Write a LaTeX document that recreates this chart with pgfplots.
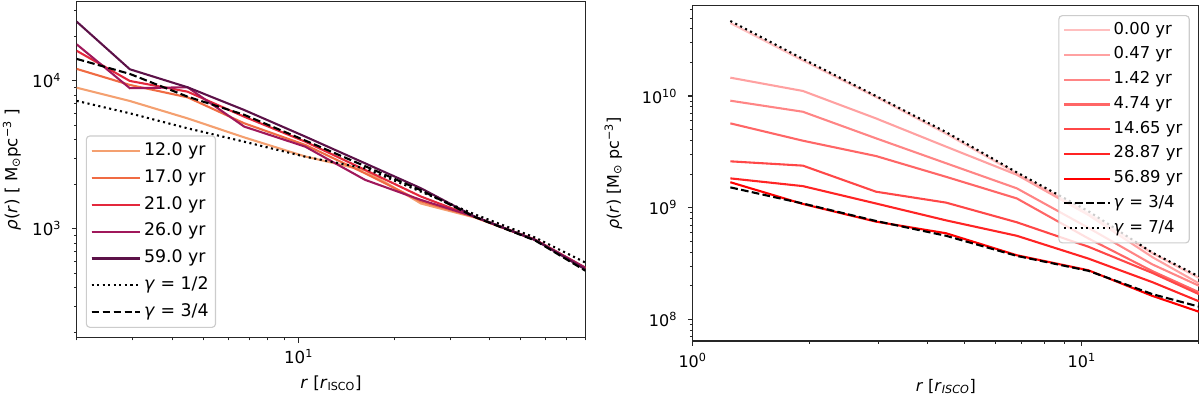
\documentclass[border=0pt,12pt]{standalone}
\usepackage{fontspec}
\setmainfont{DejaVu Sans}
\usepackage{pgfplots}
\pgfplotsset{compat=1.18}

\definecolor{cA}{HTML}{F4A070}
\definecolor{cB}{HTML}{F06B43}
\definecolor{cC}{HTML}{E3283C}
\definecolor{cD}{HTML}{A0185B}
\definecolor{cE}{HTML}{5C1148}
\definecolor{axgray}{HTML}{262626}

\pgfplotsset{
  log number format basis/.code 2 args={#1\textsuperscript{\pgfmathprintnumber{#2}}},
  every axis/.append style={
    scale only axis, 
    axis line style={line width=0.8pt, axgray},
    tick style={axgray}, major tick style={line width=0.8pt}, minor tick style={line width=0.6pt},
    major tick length=3.5pt, minor tick length=2pt, tick align=outside, tick pos=left,
    legend cell align=left,
    yticklabel style={xshift=-3.5pt},
    xticklabel style={yshift=-1pt},
  },
  every axis plot/.append style={line width=1.5pt},
}
\tikzset{
  dotline/.style={black, line width=1.5pt, dash pattern=on 1.5pt off 2.5pt},
  dashline/.style={black, line width=1.5pt, dash pattern=on 5.5pt off 2.4pt},
}

\begin{document}
\begin{tikzpicture}
\useasboundingbox (0,0) rectangle (864pt,285.12pt);

% left panel
\begin{loglogaxis}[
  at={(55.2pt,42pt)}, anchor=south west, width=366.2pt, height=241.9pt,
  xmin=2, xmax=80, ymin=183, ymax=34400,
  log basis x=10, log basis y=10,
  xtick={10}, minor xtick={2,3,4,5,6,7,8,9,20,30,40,50,60,70,80},
  ytick={1000,10000}, minor ytick={200,300,400,500,600,700,800,900,2000,3000,4000,5000,6000,7000,8000,9000,20000,30000},
  tick label style={font=\fontsize{12}{14}\selectfont},
  label style={font=\fontsize{12}{14}\selectfont},
  xlabel={\textit{r} [\textit{r}\textsubscript{ISCO}]},
  ylabel={\textit{ρ}(\textit{r}) [ M\textsubscript{⊙}pc\textsuperscript{−3} ]},
  legend image code/.code={\path (0pt,0pt) -- (35pt,0pt); \draw[line width=1.5pt,#1] (0pt,0pt) -- (28pt,0pt);},
  legend style={at={(0.018,0.029)}, anchor=south west, draw=black!20, line width=0.8pt,
    rounded corners=2.5pt, fill=white, fill opacity=0.8, text opacity=1, draw opacity=1,
    inner xsep=3pt, inner ysep=3pt, row sep=3.3pt,
    nodes={inner sep=2pt, text height=9pt, text depth=3pt},
    font=\fontsize{12.5}{14}\selectfont},
  /pgf/number format/assume math mode=true,
]
\addplot[cA] coordinates {(2,9000) (2.94,7320) (4.47,5580) (6.74,4150) (10.5,3080) (16.2,2480) (24.3,1480) (35.9,1190) (55.7,840) (80,545)};
\addplot[cB] coordinates {(2,12060) (2.94,9400) (4.47,7750) (6.74,5170) (10.5,3690) (16.2,2370) (24.3,1530) (35.9,1200) (55.7,840) (80,540)};
\addplot[cC] coordinates {(2,16000) (2.94,10000) (4.47,8460) (6.74,5730) (10.5,3880) (16.2,2500) (24.3,1650) (35.9,1200) (55.7,840) (80,540)};
\addplot[cD] coordinates {(2,17700) (2.94,8930) (4.47,9060) (6.74,4910) (10.5,3590) (16.2,2140) (24.3,1565) (35.9,1205) (55.7,838) (80,545)};
\addplot[cE] coordinates {(2,25200) (2.94,12000) (4.47,9060) (6.74,6360) (10.5,4200) (16.2,2770) (24.3,1877) (35.9,1205) (55.7,838) (80,530)};
\addplot[dotline] coordinates {(2,7330) (2.94,6040) (4.47,4780) (6.74,3880) (10.5,3070) (16.2,2560) (24.3,1780) (35.9,1250) (55.7,870) (80,590)};
\addplot[dashline] coordinates {(2,14100) (2.94,11160) (4.47,7830) (6.74,5900) (10.5,3950) (16.2,2650) (24.3,1820) (35.9,1200) (55.7,830) (80,520)};
\legend{12.0 yr, 17.0 yr, 21.0 yr, 26.0 yr, 59.0 yr, \textit{γ} = 1/2, \textit{γ} = 3/4}
\end{loglogaxis}

% right panel
\begin{loglogaxis}[
  at={(498.7pt,39.6pt)}, anchor=south west, width=364.5pt, height=241.4pt,
  xmin=1, xmax=20, ymin=6.4e7, ymax=6.44e10,
  log basis x=10, log basis y=10,
  xtick={1,10}, minor xtick={2,3,4,5,6,7,8,9,20},
  ytick={1e8,1e9,1e10}, minor ytick={7e7,8e7,9e7,2e8,3e8,4e8,5e8,6e8,7e8,8e8,9e8,2e9,3e9,4e9,5e9,6e9,7e9,8e9,9e9,2e10,3e10,4e10,5e10,6e10},
  tick label style={font=\fontsize{11.5}{13}\selectfont},
  label style={font=\fontsize{11.5}{13}\selectfont},
  ylabel shift=6pt,
  xlabel={\textit{r} [\textit{r}\textsubscript{\textit{ISCO}}]},
  ylabel={\textit{ρ}(\textit{r}) [M\textsubscript{⊙} pc\textsuperscript{−3}]},
  legend image code/.code={\path (0pt,0pt) -- (33pt,0pt); \draw[line width=1.5pt,#1] (0pt,0pt) -- (26pt,0pt);},
  legend style={at={(0.982,0.972)}, anchor=north east, draw=black!20, line width=0.8pt,
    rounded corners=2.5pt, fill=white, fill opacity=0.8, text opacity=1, draw opacity=1,
    inner xsep=3pt, inner ysep=3pt, row sep=2.6pt,
    nodes={inner sep=2pt, text height=8.4pt, text depth=2.8pt},
    font=\fontsize{11.8}{13}\selectfont},
  /pgf/number format/assume math mode=true,
]
\addplot[red!25] coordinates {(1.25,4.5e10) (1.92,2.08e10) (2.96,9.8e9) (4.48,4.6e9) (6.81,2.02e9) (10.4,8.9e8) (15.2,3.9e8) (20,2.35e8)};
\addplot[red!37] coordinates {(1.25,1.46e10) (1.92,1.11e10) (2.96,6.3e9) (4.48,3.52e9) (6.81,1.97e9) (10.4,8.6e8) (15.2,3.6e8) (20,2.1e8)};
\addplot[red!48] coordinates {(1.25,9.08e9) (1.92,7.23e9) (2.96,4.18e9) (4.48,2.5e9) (6.81,1.49e9) (10.4,6.6e8) (15.2,3.1e8) (20,2.0e8)};
\addplot[red!60] coordinates {(1.25,5.69e9) (1.92,3.98e9) (2.96,2.9e9) (4.48,1.89e9) (6.81,1.21e9) (10.4,5.3e8) (15.2,2.7e8) (20,1.75e8)};
\addplot[red!72] coordinates {(1.25,2.6e9) (1.92,2.38e9) (2.96,1.39e9) (4.48,1.11e9) (6.81,7.4e8) (10.4,4.47e8) (15.2,2.6e8) (20,1.68e8)};
\addplot[red!86] coordinates {(1.25,1.83e9) (1.92,1.56e9) (2.96,1.09e9) (4.48,7.7e8) (6.81,5.6e8) (10.4,3.5e8) (15.2,2.15e8) (20,1.45e8)};
\addplot[red] coordinates {(1.25,1.69e9) (1.92,1.08e9) (2.96,7.5e8) (4.48,5.9e8) (6.81,3.75e8) (10.4,2.75e8) (15.2,1.62e8) (20,1.17e8)};
\addplot[dashline] coordinates {(1.25,1.52e9) (1.92,1.09e9) (2.96,7.6e8) (4.48,5.6e8) (6.81,3.7e8) (10.4,2.72e8) (15.2,1.68e8) (20,1.3e8)};
\addplot[dotline] coordinates {(1.25,4.7e10) (1.92,2.15e10) (2.96,1.0e10) (4.48,4.75e9) (6.81,2.07e9) (10.4,9.3e8) (15.2,3.95e8) (20,2.42e8)};
\legend{0.00 yr, 0.47 yr, 1.42 yr, 4.74 yr, 14.65 yr, 28.87 yr, 56.89 yr, \textit{γ} = 3/4, \textit{γ} = 7/4}
\end{loglogaxis}
\end{tikzpicture}
\end{document}
